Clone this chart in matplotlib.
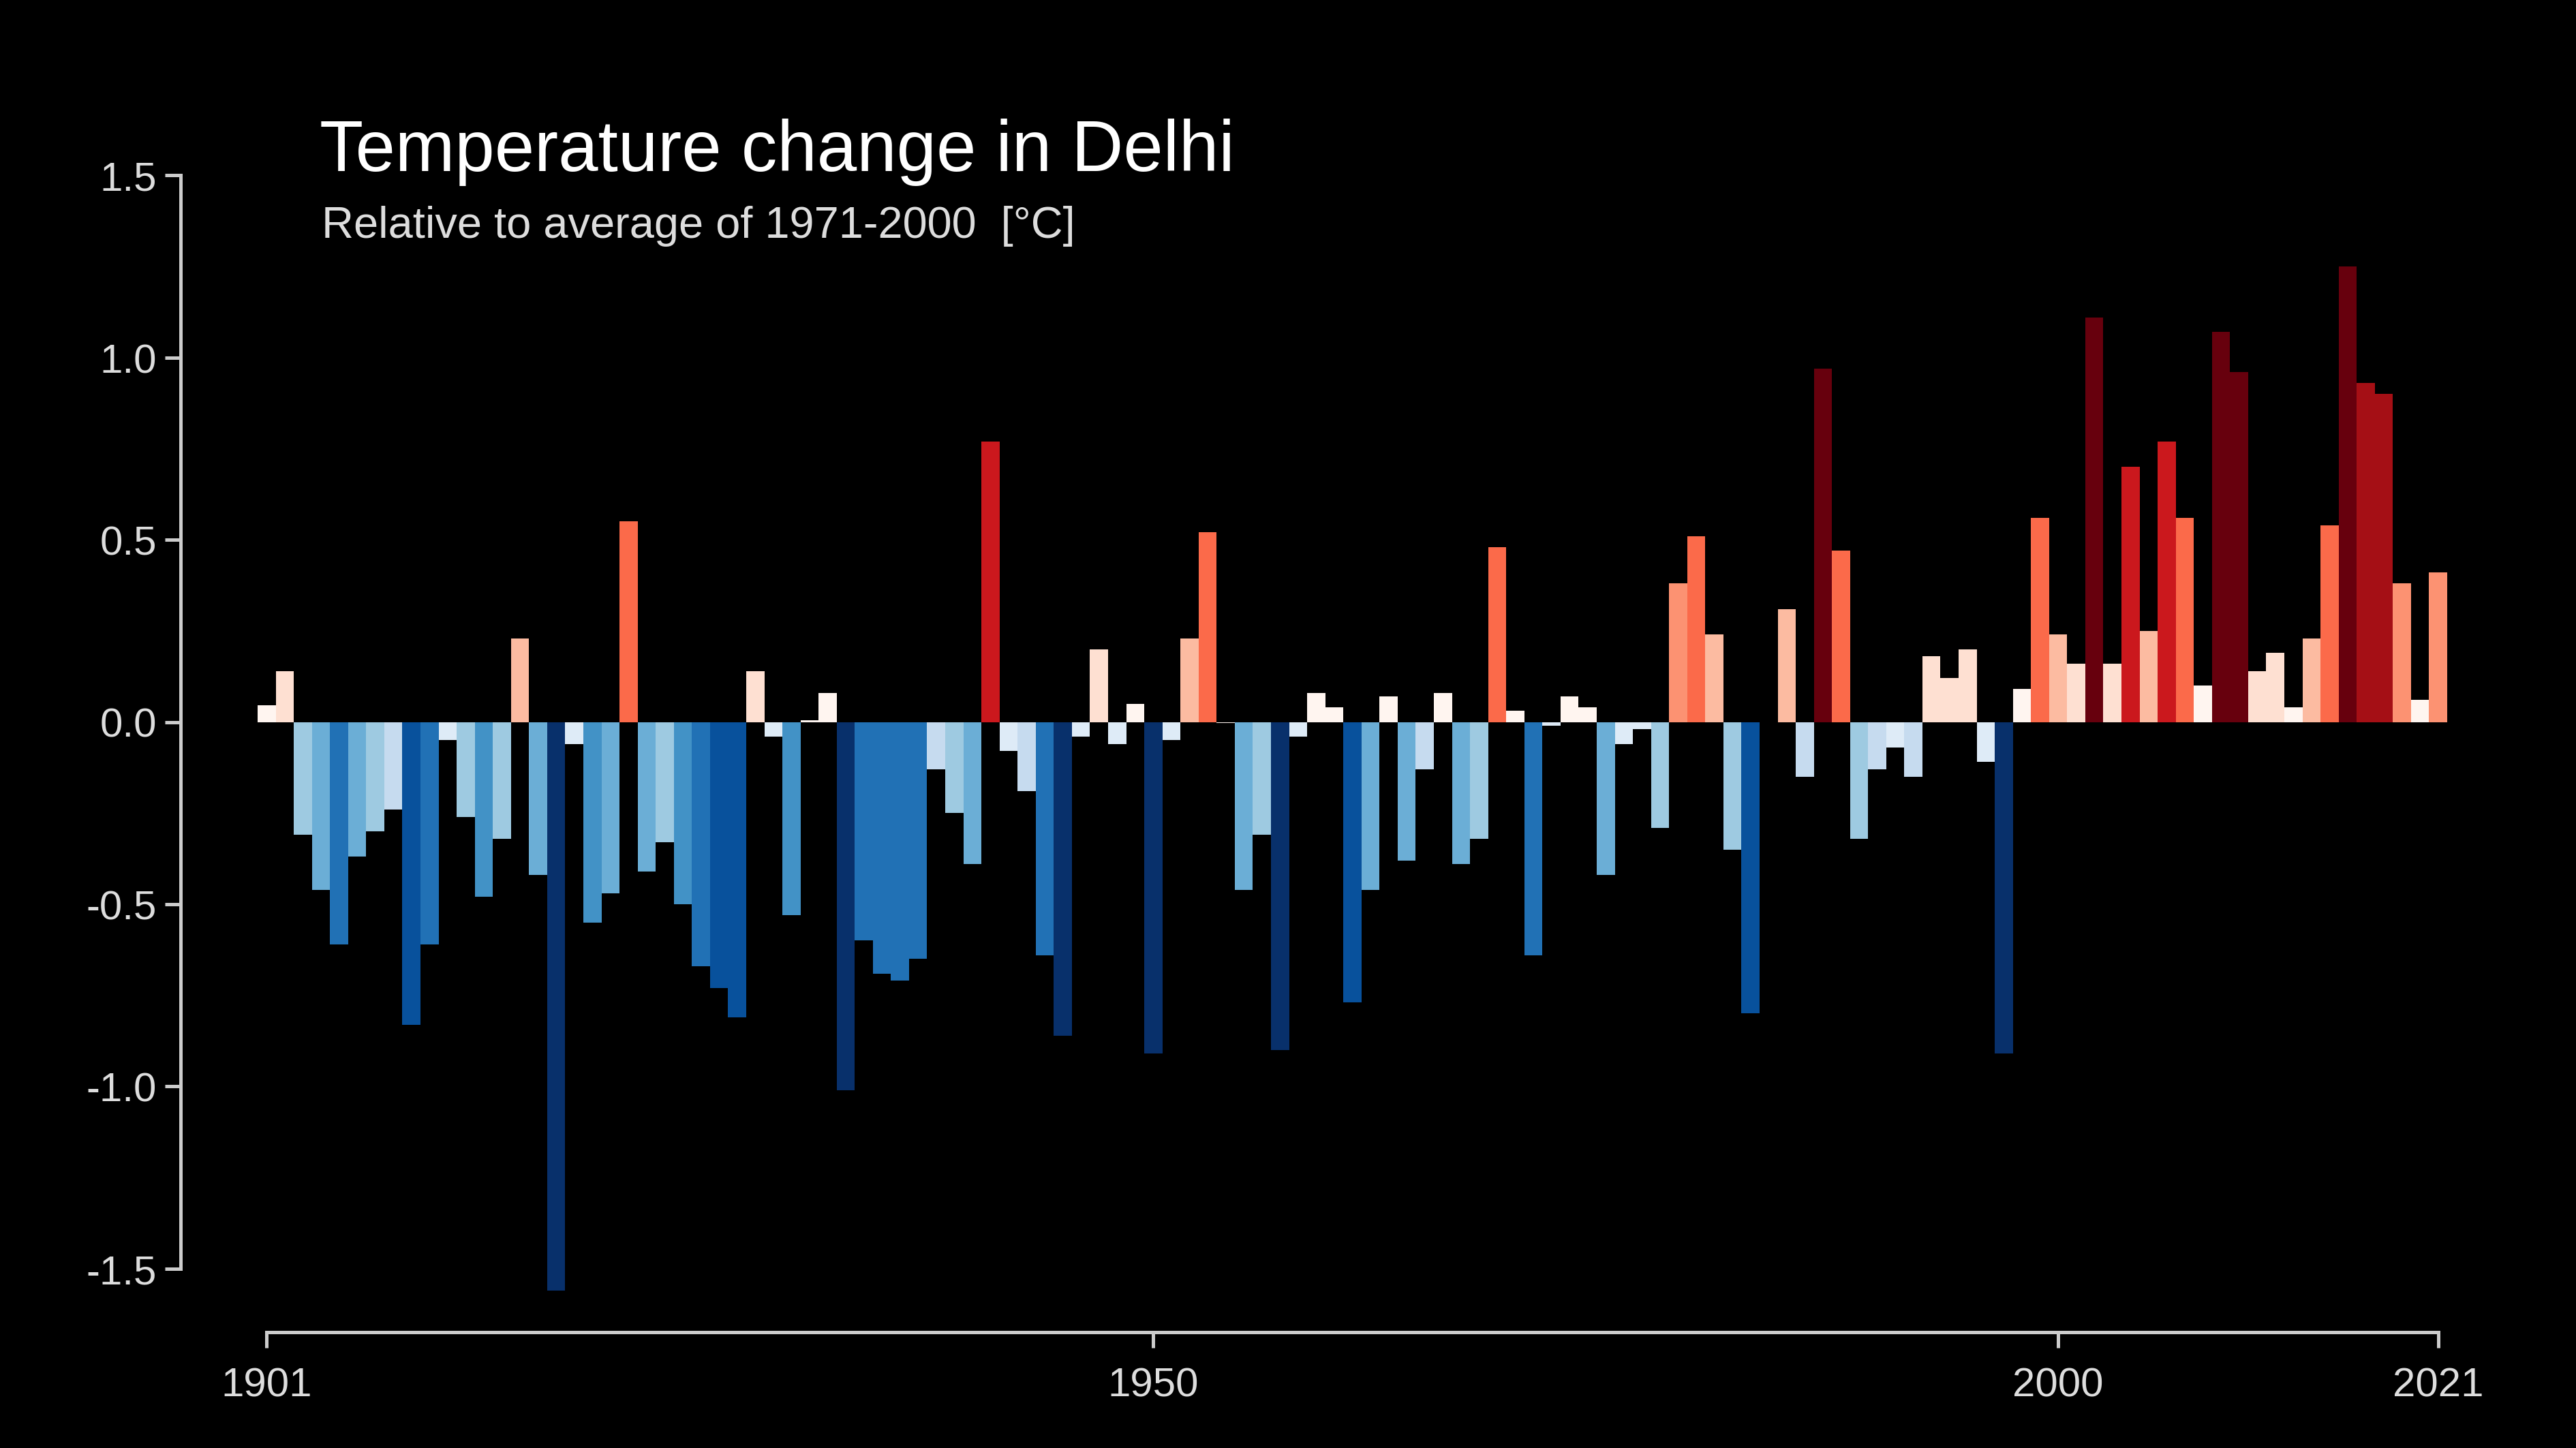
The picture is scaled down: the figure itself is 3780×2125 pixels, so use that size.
import matplotlib.pyplot as plt
from matplotlib.colors import ListedColormap, Normalize

plt.rcParams['font.family'] = ['Liberation Sans', 'DejaVu Sans']

years = list(range(1901, 2022))
anomaly = [
    0.045, 0.14, -0.31, -0.46, -0.61, -0.37, -0.30, -0.24, -0.83, -0.61,   # 1901-1910
    -0.05, -0.26, -0.48, -0.32, 0.23, -0.42, -1.56, -0.06, -0.55, -0.47,   # 1911-1920
    0.55, -0.41, -0.33, -0.50, -0.67, -0.73, -0.81, 0.14, -0.04, -0.53,    # 1921-1930
    0.005, 0.08, -1.01, -0.60, -0.69, -0.71, -0.65, -0.13, -0.25, -0.39,   # 1931-1940
    0.77, -0.08, -0.19, -0.64, -0.86, -0.04, 0.20, -0.06, 0.05, -0.91,     # 1941-1950
    -0.05, 0.23, 0.52, -0.003, -0.46, -0.31, -0.90, -0.04, 0.08, 0.04,     # 1951-1960
    -0.77, -0.46, 0.07, -0.38, -0.13, 0.08, -0.39, -0.32, 0.48, 0.03,      # 1961-1970
    -0.64, -0.01, 0.07, 0.04, -0.42, -0.06, -0.02, -0.29, 0.38, 0.51,      # 1971-1980
    0.24, -0.35, -0.80, 0.0, 0.31, -0.15, 0.97, 0.47, -0.32, -0.13,        # 1981-1990
    -0.07, -0.15, 0.18, 0.12, 0.20, -0.11, -0.91, 0.09, 0.56, 0.24,        # 1991-2000
    0.16, 1.11, 0.16, 0.70, 0.25, 0.77, 0.56, 0.10, 1.07, 0.96,            # 2001-2010
    0.14, 0.19, 0.04, 0.23, 0.54, 1.25, 0.93, 0.90, 0.38, 0.06, 0.41,      # 2011-2021
]

stripe_colors = ['#08306b', '#08519c', '#2171b5', '#4292c6', '#6baed6', '#9ecae1',
                 '#c6dbef', '#deebf7', '#fff5f0', '#fee0d2', '#fcbba1', '#fc9272',
                 '#fb6a4a', '#ef3b2c', '#cb181d', '#a50f15', '#67000d']
cmap = ListedColormap(stripe_colors)
norm = Normalize(vmin=-0.95, vmax=1.05)

fig = plt.figure(figsize=(15.75, 8.858), dpi=240, facecolor='black')
ax = fig.add_axes([0.100, 0.0986, 0.850, 0.780], facecolor='black')

ax.bar(years, anomaly, width=1.0, color=[cmap(norm(v)) for v in anomaly], linewidth=0)

ax.set_xlim(1900.5, 2021.5)
ax.set_ylim(-1.6, 1.5)

for s in ['top', 'right']:
    ax.spines[s].set_visible(False)
ax.spines['left'].set_position(('outward', 34))
ax.spines['bottom'].set_position(('outward', 12))
ax.spines['left'].set_bounds(-1.5, 1.5)
ax.spines['bottom'].set_bounds(1901, 2021)
for s in ['left', 'bottom']:
    ax.spines[s].set_color('#cccccc')
    ax.spines[s].set_linewidth(1.5)

ax.set_yticks([-1.5, -1.0, -0.5, 0.0, 0.5, 1.0, 1.5])
ax.set_yticklabels(['-1.5', '-1.0', '-0.5', '0.0', '0.5', '1.0', '1.5'])
ax.set_xticks([1901, 1950, 2000, 2021])
ax.tick_params(colors='#cccccc', labelcolor='#dddddd', labelsize=18, length=7, width=1.5)
ax.tick_params(axis='x', pad=8)

fig.text(0.124, 0.882, 'Temperature change in Delhi', color='white', fontsize=31.5)
fig.text(0.125, 0.836, 'Relative to average of 1971-2000  [°C]', color='#dddddd', fontsize=19.5)

fig.savefig('out.png', facecolor='black')
